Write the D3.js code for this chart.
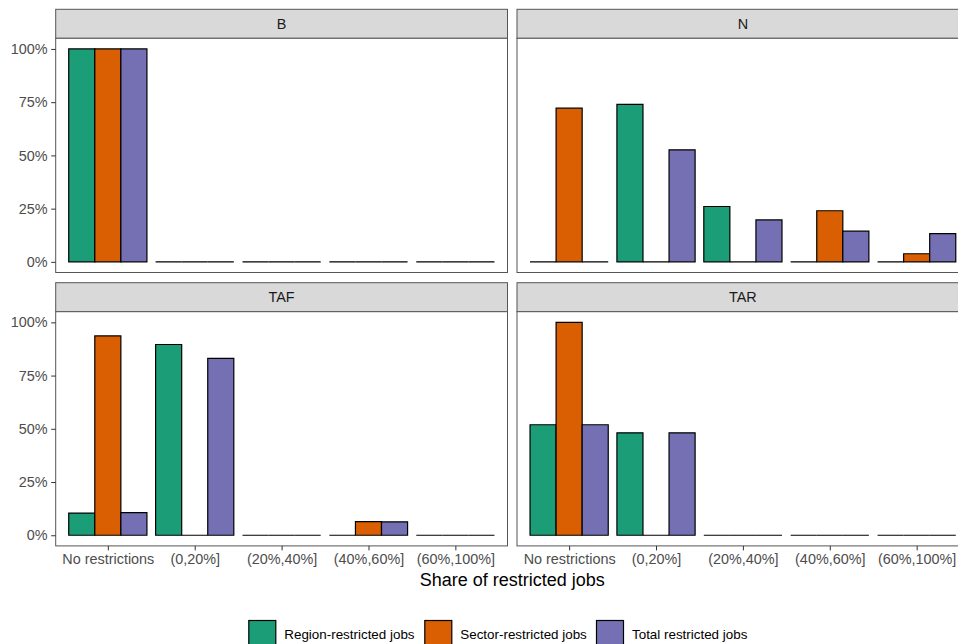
<!DOCTYPE html>
<html>
<head>
<meta charset="utf-8">
<script src="https://cdn.jsdelivr.net/npm/d3@7"></script>
<style>
  html, body { margin: 0; padding: 0; background: #fff; }
  svg { display: block; font-family: "Liberation Sans", Arial, Helvetica, sans-serif; }
</style>
</head>
<body>
<svg id="chart" width="958" height="644"></svg>
<script>
// ---- Data ----
const facets = ["B", "N", "TAF", "TAR"];
const categories = ["No restrictions", "(0,20%]", "(20%,40%]", "(40%,60%]", "(60%,100%]"];
const seriesNames = ["Region-restricted jobs", "Sector-restricted jobs", "Total restricted jobs"];
const seriesColors = ["#1B9E77", "#D95F02", "#7570B3"];
// values per facet (B, N, TAF, TAR), per category
const regionRestricted = [
  [1.00, 0.00, 0.00, 0.00, 0.00],
  [0.00, 0.740, 0.260, 0.00, 0.00],
  [0.104, 0.896, 0.00, 0.00, 0.00],
  [0.519, 0.481, 0.00, 0.00, 0.00]
];
const sectorRestricted = [
  [1.00, 0.00, 0.00, 0.00, 0.00],
  [0.722, 0.00, 0.00, 0.240, 0.038],
  [0.936, 0.00, 0.00, 0.064, 0.00],
  [1.00, 0.00, 0.00, 0.00, 0.00]
];
const totalRestricted = [
  [1.00, 0.00, 0.00, 0.00, 0.00],
  [0.00, 0.526, 0.197, 0.144, 0.133],
  [0.106, 0.831, 0.00, 0.063, 0.00],
  [0.519, 0.481, 0.00, 0.00, 0.00]
];
const yTicks = [0, 0.25, 0.5, 0.75, 1];
const xTitle = "Share of restricted jobs";

const seriesValues = [regionRestricted, sectorRestricted, totalRestricted];

// ---- Layout ----
const svg = d3.select("#chart");
const panelW = 451.8;
const colX = [55.7, 517.0];
const stripTop = [9.3, 282.7];
const stripH = 29;
const panelH = 234.2;
const fontSmall = 14.4;
const fontLegend = 13.4;

const x = d3.scalePoint().domain(categories).range([0, panelW]).padding(0.6);
const step = x.step();
const dodge = d3.scaleBand().domain(seriesNames).range([-0.45 * step, 0.45 * step]).padding(0);
const y = d3.scaleLinear().domain([-0.05, 1.05]).range([panelH, 0]);

facets.forEach((f, fi) => {
  const col = fi % 2, row = Math.floor(fi / 2);
  const px = colX[col];
  const sy = stripTop[row];
  const py = sy + stripH;

  // strip
  svg.append("rect")
    .attr("x", px).attr("y", sy).attr("width", panelW).attr("height", stripH)
    .attr("fill", "#D9D9D9").attr("stroke", "#555").attr("stroke-width", 1);
  svg.append("text")
    .attr("x", px + panelW / 2).attr("y", sy + stripH / 2).attr("dy", "0.35em")
    .attr("text-anchor", "middle").attr("fill", "#1A1A1A")
    .attr("font-size", fontSmall).text(f);

  const g = svg.append("g").attr("transform", `translate(${px},${py})`);
  g.append("rect").attr("width", panelW).attr("height", panelH).attr("fill", "#fff");

  // bars
  const bars = [];
  seriesNames.forEach((s, si) => {
    categories.forEach((c, ci) => {
      bars.push({ s, si, c, v: seriesValues[si][fi][ci] });
    });
  });
  g.selectAll("path.bar").data(bars).enter().append("path")
    .attr("class", "bar")
    .attr("d", d => {
      const x0 = x(d.c) + dodge(d.s);
      const x1 = x0 + dodge.bandwidth();
      const y0 = y(0), y1 = y(d.v);
      return `M${x0},${y0}V${y1}H${x1}V${y0}Z`;
    })
    .attr("fill", d => seriesColors[d.si])
    .attr("stroke", "#000").attr("stroke-width", 1.2);

  // panel border
  g.append("rect").attr("width", panelW).attr("height", panelH)
    .attr("fill", "none").attr("stroke", "#555").attr("stroke-width", 1);

  // y axis (left column only)
  if (col === 0) {
    const ya = g.append("g").call(d3.axisLeft(y).tickValues(yTicks)
      .tickFormat(d3.format(".0%")).tickSize(4.5).tickPadding(3.6));
    ya.select(".domain").remove();
    ya.selectAll("line").attr("stroke", "#333").attr("stroke-width", 1);
    ya.selectAll("text").attr("fill", "#4D4D4D").attr("font-size", fontSmall)
      .attr("font-family", "Liberation Sans, Arial, sans-serif");
  }
  // x axis (bottom row only)
  if (row === 1) {
    const xa = g.append("g").attr("transform", `translate(0,${panelH})`)
      .call(d3.axisBottom(x).tickSize(4.5).tickPadding(3.6));
    xa.select(".domain").remove();
    xa.selectAll("line").attr("stroke", "#333").attr("stroke-width", 1);
    xa.selectAll("text").attr("fill", "#4D4D4D").attr("font-size", fontSmall)
      .attr("font-family", "Liberation Sans, Arial, sans-serif");
  }
});

// x title
svg.append("text")
  .attr("x", colX[0] + (colX[1] + panelW - colX[0]) / 2).attr("y", 586)
  .attr("text-anchor", "middle").attr("fill", "#000").attr("font-size", 18)
  .text(xTitle);

// legend
const legendKeyX = [248.3, 424.3, 596.0];
const legendY = 620;
const keySize = 28;
seriesNames.forEach((s, i) => {
  svg.append("rect")
    .attr("x", legendKeyX[i] + 0.5).attr("y", legendY + 0.5)
    .attr("width", keySize - 1).attr("height", keySize - 1)
    .attr("fill", seriesColors[i]).attr("stroke", "#000").attr("stroke-width", 1.2);
  svg.append("text")
    .attr("x", legendKeyX[i] + keySize + 8).attr("y", legendY + keySize / 2).attr("dy", "0.35em")
    .attr("fill", "#000").attr("font-size", fontLegend).text(s);
});
</script>
</body>
</html>
